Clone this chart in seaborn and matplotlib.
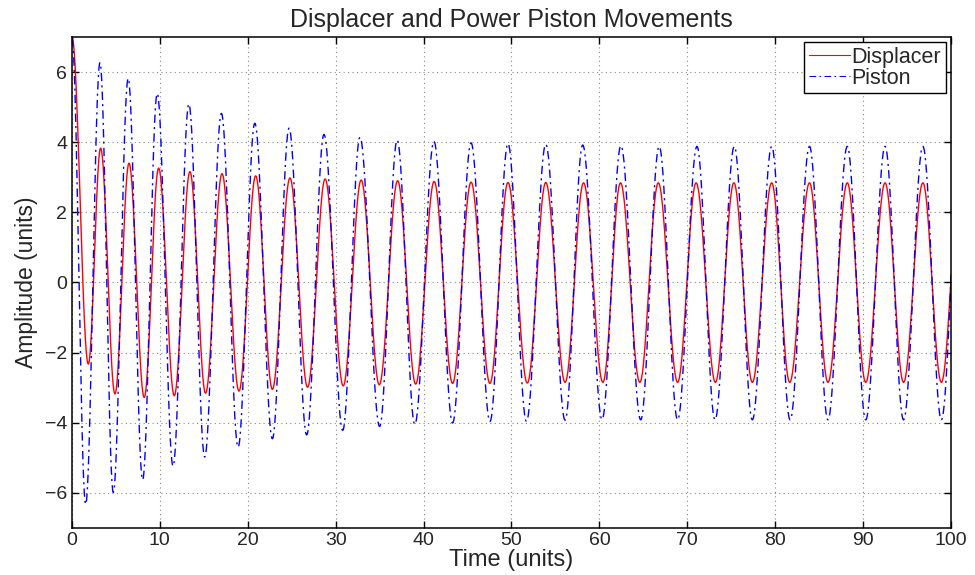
import numpy as np
import pandas as pd
import matplotlib
matplotlib.use("Agg")
import matplotlib.pyplot as plt
import seaborn as sns

# turning points (time, amplitude)
disp_t = [0.0, 1.86, 3.26, 4.89, 6.49, 8.22, 9.86, 11.64, 13.42, 15.2, 17.07, 19.0,
          20.9, 22.8, 24.8, 26.8, 28.8, 30.86, 32.9, 34.96, 37.05, 39.1, 41.2, 43.3,
          45.4, 47.55, 49.6, 51.8, 53.9, 56.1, 58.2, 60.4, 62.4, 64.6, 66.7, 68.9,
          71.0, 73.2, 75.3, 77.4, 79.6, 81.65, 83.9, 86.0, 88.2, 90.3, 92.5, 94.6,
          96.8, 98.9, 101.05]
disp_v = [7.0, -2.33, 3.83, -3.18, 3.40, -3.28, 3.26, -3.23, 3.16, -3.16, 3.10, -3.10,
          3.04, -3.05, 2.98, -2.99, 2.95, -2.95, 2.92, -2.92, 2.90, -2.90, 2.88, -2.88,
          2.86, -2.88, 2.85, -2.87, 2.85, -2.85, 2.84, -2.85, 2.84, -2.85, 2.84, -2.85,
          2.84, -2.85, 2.84, -2.85, 2.84, -2.85, 2.84, -2.85, 2.84, -2.85, 2.84, -2.85,
          2.84, -2.85, 2.84]

pist_t = [0.0, 1.56, 3.19, 4.7, 6.4, 8.04, 9.7, 11.5, 13.3, 15.1, 17.0, 18.9,
          20.8, 22.8, 24.7, 26.7, 28.67, 30.8, 32.76, 35.0, 37.0, 39.0, 41.18, 43.3,
          45.4, 47.55, 49.6, 51.7, 53.9, 56.1, 58.1, 60.3, 62.45, 64.7, 66.8, 68.9,
          71.1, 73.15, 75.35, 77.4, 79.6, 81.7, 83.9, 86.0, 88.2, 90.3, 92.5, 94.6,
          96.8, 98.9, 101.05]
pist_v = [6.95, -6.33, 6.27, -5.99, 5.82, -5.63, 5.39, -5.24, 5.09, -4.98, 4.82, -4.70,
          4.54, -4.46, 4.40, -4.35, 4.22, -4.22, 4.14, -4.11, 4.06, -4.05, 4.02, -4.01,
          3.98, -3.97, 3.96, -3.96, 3.94, -3.93, 3.92, -3.91, 3.90, -3.92, 3.88, -3.92,
          3.88, -3.92, 3.88, -3.92, 3.88, -3.92, 3.88, -3.92, 3.88, -3.92, 3.88, -3.92,
          3.88, -3.92, 3.88]

x_ticks = [0, 10, 20, 30, 40, 50, 60, 70, 80, 90, 100]
y_ticks = [-6, -4, -2, 0, 2, 4, 6]


def smooth(tp, vp, n=40):
    # half-cosine easing between consecutive turning points
    ts, vs = [], []
    for i in range(len(tp) - 1):
        s = np.linspace(0, 1, n, endpoint=False)
        ts.append(tp[i] + (tp[i + 1] - tp[i]) * s)
        vs.append(vp[i] + (vp[i + 1] - vp[i]) * (1 - np.cos(np.pi * s)) / 2)
    ts.append([tp[-1]])
    vs.append([vp[-1]])
    return np.concatenate(ts), np.concatenate(vs)


dt, dv = smooth(disp_t, disp_v)
pt, pv = smooth(pist_t, pist_v)
df_d = pd.DataFrame({"Time": dt, "Amplitude": dv})
df_p = pd.DataFrame({"Time": pt, "Amplitude": pv})

sns.set_style("white")
plt.rcParams["font.family"] = ["Liberation Sans", "DejaVu Sans"]

fig, ax = plt.subplots(figsize=(9.75, 5.75), dpi=100)
fig.subplots_adjust(left=0.0738, right=0.9754, top=0.9357, bottom=0.082)

sns.lineplot(data=df_d, x="Time", y="Amplitude", ax=ax, color="red",
             linewidth=1.0, label="Displacer", sort=False)
sns.lineplot(data=df_p, x="Time", y="Amplitude", ax=ax, color="blue",
             linewidth=1.0, dashes=False, label="Piston", sort=False)
ax.lines[1].set_dashes([6, 3, 1.5, 3])

ax.set_xlim(0, 100)
ax.set_ylim(-7, 7)
ax.set_xticks(x_ticks)
ax.set_yticks(y_ticks)
ax.set_xticklabels([str(v) for v in x_ticks])
ax.set_yticklabels([str(v).replace("-", "\u2212") for v in y_ticks])
ax.tick_params(direction="in", length=5, width=1, labelsize=14, pad=3.5,
               top=True, right=True, bottom=True, left=True, color="black")
ax.tick_params(axis="x", pad=3)
ax.grid(True, linestyle=(0, (1, 3)), color="#888888", linewidth=0.8)
for sp in ax.spines.values():
    sp.set_color("black")
    sp.set_linewidth(1.1)

ax.set_title("Displacer and Power Piston Movements", fontsize=18, pad=7)
ax.set_xlabel("Time (units)", fontsize=17, labelpad=0)
ax.set_ylabel("Amplitude (units)", fontsize=16.5, labelpad=5)

leg = ax.legend(loc="upper right", fontsize=15.5, frameon=True, fancybox=False,
                edgecolor="black", framealpha=1, borderaxespad=0.25, borderpad=0.2,
                labelspacing=0.0, handlelength=1.9, handletextpad=0.1)
leg.get_frame().set_linewidth(1.0)
for h in leg.get_lines():
    h.set_linewidth(0.8)
leg.get_lines()[1].set_dashes([6, 3, 1.5, 3])

fig.savefig("out.png", dpi=100)
